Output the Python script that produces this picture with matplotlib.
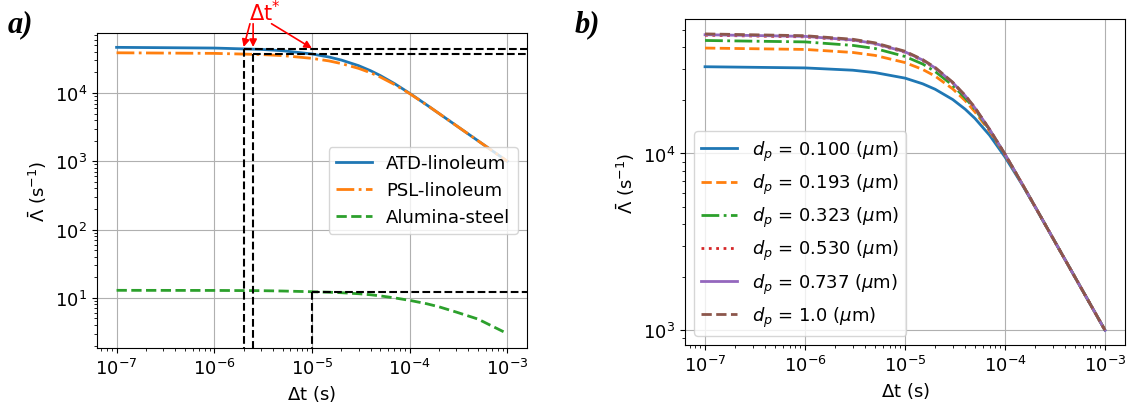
import numpy as np
import matplotlib.pyplot as plt

plt.rcParams['font.size'] = 13

# time steps (s)
dt = [1e-7, 1e-6, 3e-6, 5e-6, 1e-5, 1.5e-5, 2e-5, 3e-5, 4e-5, 5e-5, 7e-5,
      1e-4, 1.5e-4, 2e-4, 3e-4, 5e-4, 1e-3]

# panel a) values
atd = [46500, 45400, 43400, 41500, 37200, 33500, 30300, 25100, 21100, 18000,
       13700, 9900, 6660, 5000, 3330, 2000, 1000]
psl = [38700, 37960, 36500, 35200, 32100, 29400, 26900, 22900, 19700, 17100,
       13300, 9790, 6650, 5000, 3330, 2000, 1000]
alumina = [12.9, 12.85, 12.75, 12.6, 12.3, 12.1, 11.9, 11.5, 11.1, 10.7,
           10.0, 9.2, 8.2, 7.4, 6.2, 4.9, 3.0]
dt_star = [2e-6, 2.5e-6, 1e-5]
level = [44200, 36800, 12.2]

# panel b) values
dp_labels = ['0.100', '0.193', '0.323', '0.530', '0.737', '1.0']
lam_b = [
    [30970, 30500, 29600, 28700, 26700, 24800, 23100, 20200, 17800, 15800,
     12700, 9550, 6600, 4990, 3330, 2000, 1000],
    [39500, 38800, 37300, 35900, 32700, 29900, 27400, 23200, 19900, 17200,
     13400, 9810, 6650, 5000, 3330, 2000, 1000],
    [43600, 42800, 40900, 39300, 35400, 32100, 29100, 24300, 20600, 17800,
     13600, 9870, 6660, 5000, 3330, 2000, 1000],
    [46700, 45700, 43700, 41700, 37400, 33600, 30400, 25100, 21200, 18100,
     13700, 9900, 6660, 5000, 3330, 2000, 1000],
    [47000, 46000, 43900, 41900, 37600, 33800, 30500, 25200, 21200, 18100,
     13700, 9910, 6660, 5000, 3330, 2000, 1000],
    [47500, 46400, 44300, 42300, 37900, 34000, 30700, 25300, 21300, 18200,
     13700, 9920, 6660, 5000, 3330, 2000, 1000],
]
styles_b = ['-', '--', '-.', ':', '-', '--']

fig = plt.figure(figsize=(11.31, 4.10), dpi=100)
ax1 = fig.add_axes([0.0858, 0.149, 0.380, 0.768])
ax2 = fig.add_axes([0.6057, 0.156, 0.389, 0.795])

# ---- a)
ax1.plot(dt, atd, '-', color='C0', lw=2, label='ATD-linoleum')
ax1.plot(dt, psl, '-.', color='C1', lw=2, label='PSL-linoleum')
ax1.plot(dt, alumina, '--', color='C2', lw=2, label='Alumina-steel')
ax1.set_xscale('log')
ax1.set_yscale('log')
xl = ax1.get_xlim()
yl = ax1.get_ylim()
for t, lv in zip(dt_star, level):
    ax1.plot([t, xl[1]], [lv, lv], 'k--', lw=1.5)
    ax1.plot([t, t], [lv, yl[0]], 'k--', lw=1.5)
ax1.set_xlim(xl)
ax1.set_ylim(yl)

ax1.text(3.27e-6, 1.56e5, r'$\Delta$t$^{*}$', color='red', fontsize=15,
         ha='center', va='center')
arrow_from = [(2.32e-6, 1.03e5), (2.5e-6, 1.03e5), (3.86e-6, 1.03e5)]
arrow_to = [(2e-6, 47000), (2.5e-6, 47000), (1e-5, 45000)]
for s, e in zip(arrow_from, arrow_to):
    ax1.annotate('', xy=e, xytext=s, annotation_clip=False,
                 arrowprops=dict(arrowstyle='-|>', color='red', lw=1.2,
                                 mutation_scale=11, shrinkA=0, shrinkB=0))

ax1.grid(True)
ax1.set_xlabel(r'$\Delta$t (s)')
ax1.set_ylabel(r'$\bar{\Lambda}$ (s$^{-1}$)')
ax1.legend(loc='center right')

# ---- b)
for i, (lab, vals) in enumerate(zip(dp_labels, lam_b)):
    ax2.plot(dt, vals, styles_b[i], color=f'C{i}', lw=2,
             label=r'$d_p$ = ' + lab + r' ($\mu$m)')
ax2.set_xscale('log')
ax2.set_yscale('log')
ax2.grid(True)
ax2.set_xlabel(r'$\Delta$t (s)')
ax2.set_ylabel(r'$\bar{\Lambda}$ (s$^{-1}$)')
ax2.legend(loc='lower left')

fig.text(0.007, 0.922, 'a)', fontsize=22, fontweight='bold', fontstyle='italic',
         family='Liberation Serif')
fig.text(0.508, 0.922, 'b)', fontsize=22, fontweight='bold', fontstyle='italic',
         family='Liberation Serif')

fig.savefig('out.png', dpi=100)
